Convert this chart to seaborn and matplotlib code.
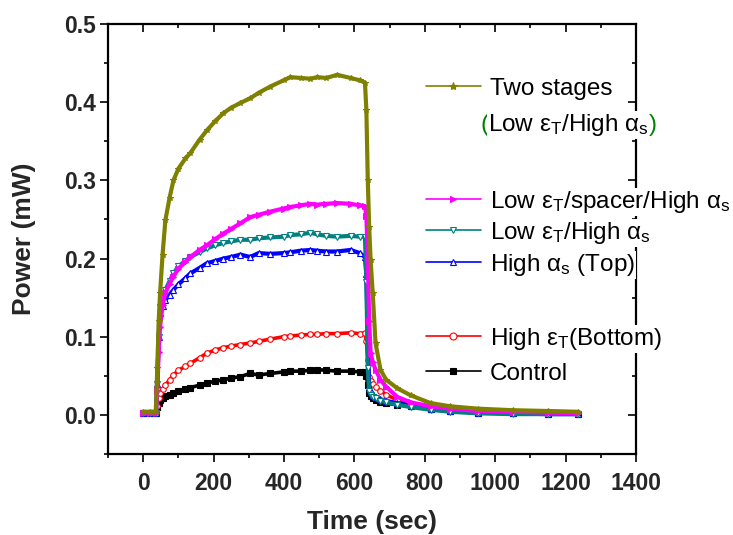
import numpy as np
import pandas as pd
import matplotlib
matplotlib.use("Agg")
import matplotlib.pyplot as plt
import matplotlib.lines as mlines
import seaborn as sns
from matplotlib.ticker import AutoMinorLocator
from matplotlib.lines import Line2D

# ---------------- data ----------------
time_s = [0, 20, 36, 40, 44, 48, 55, 63, 75, 86, 100, 120, 134, 160, 181, 205, 228, 250,
          276, 304, 328, 361, 399, 418, 447, 475, 494, 520, 551, 589, 615, 630, 634, 638,
          642, 646, 652, 660, 674, 690, 722, 760, 817, 873, 950, 1050, 1150, 1235]

two_stages = [0.004, 0.004, 0.004, 0.060, 0.120, 0.156, 0.205, 0.249, 0.278, 0.300, 0.315,
              0.328, 0.335, 0.352, 0.364, 0.376, 0.386, 0.393, 0.399, 0.405, 0.412, 0.420,
              0.428, 0.432, 0.431, 0.430, 0.432, 0.431, 0.435, 0.431, 0.428, 0.425, 0.390,
              0.300, 0.240, 0.198, 0.156, 0.092, 0.058, 0.045, 0.034, 0.025, 0.015, 0.011,
              0.008, 0.006, 0.005, 0.004]

spacer = [0.002, 0.002, 0.002, 0.030, 0.080, 0.113, 0.140, 0.156, 0.168, 0.177, 0.187,
          0.196, 0.202, 0.211, 0.217, 0.225, 0.232, 0.238, 0.245, 0.253, 0.256, 0.260,
          0.264, 0.266, 0.268, 0.270, 0.269, 0.270, 0.271, 0.270, 0.268, 0.267, 0.255,
          0.200, 0.120, 0.079, 0.068, 0.058, 0.045, 0.036, 0.023, 0.016, 0.011, 0.008,
          0.005, 0.004, 0.003, 0.002]

low_high = [0.002, 0.002, 0.002, 0.040, 0.100, 0.138, 0.150, 0.160, 0.171, 0.181, 0.190,
            0.197, 0.202, 0.208, 0.213, 0.217, 0.220, 0.222, 0.224, 0.224, 0.226, 0.227,
            0.228, 0.230, 0.231, 0.233, 0.231, 0.229, 0.228, 0.229, 0.228, 0.228, 0.170,
            0.060, 0.030, 0.026, 0.023, 0.021, 0.018, 0.016, 0.013, 0.010, 0.0065, 0.004,
            0.002, 0.001, 0.001, 0.001]

high_alpha = [0.002, 0.002, 0.002, 0.040, 0.100, 0.130, 0.139, 0.147, 0.154, 0.160, 0.167,
              0.175, 0.181, 0.188, 0.194, 0.197, 0.200, 0.202, 0.205, 0.202, 0.207, 0.206,
              0.207, 0.208, 0.210, 0.211, 0.210, 0.209, 0.209, 0.211, 0.207, 0.202, 0.180,
              0.100, 0.035, 0.030, 0.026, 0.023, 0.020, 0.018, 0.015, 0.012, 0.008, 0.005,
              0.003, 0.002, 0.001, 0.001]

high_eps = [0.002, 0.002, 0.002, 0.012, 0.022, 0.028, 0.033, 0.038, 0.045, 0.051, 0.057,
            0.062, 0.066, 0.073, 0.079, 0.083, 0.086, 0.088, 0.090, 0.092, 0.094, 0.097,
            0.100, 0.101, 0.102, 0.103, 0.103, 0.104, 0.104, 0.105, 0.104, 0.105, 0.095,
            0.070, 0.049, 0.044, 0.040, 0.036, 0.031, 0.026, 0.019, 0.014, 0.010, 0.007,
            0.005, 0.003, 0.002, 0.002]

control = [0.002, 0.002, 0.002, 0.010, 0.015, 0.019, 0.022, 0.024, 0.026, 0.028, 0.030,
           0.033, 0.035, 0.038, 0.041, 0.043, 0.045, 0.047, 0.049, 0.053, 0.051, 0.053,
           0.055, 0.056, 0.056, 0.057, 0.058, 0.057, 0.056, 0.056, 0.055, 0.055, 0.050,
           0.038, 0.028, 0.024, 0.021, 0.019, 0.017, 0.015, 0.013, 0.011, 0.007, 0.005,
           0.003, 0.002, 0.001, 0.001]

series_names = ["Control", "High eps (Bottom)", "High alpha (Top)", "Low eps/High alpha",
                "Low eps/spacer/High alpha", "Two stages"]
series_values = [control, high_eps, high_alpha, low_high, spacer, two_stages]

x_ticks = [0, 200, 400, 600, 800, 1000, 1200, 1400]
y_ticks = [0.0, 0.1, 0.2, 0.3, 0.4, 0.5]

# ---------------- styles ----------------
colors = {"Control": "#000000", "High eps (Bottom)": "#FF0000", "High alpha (Top)": "#0000FF",
          "Low eps/High alpha": "#008080", "Low eps/spacer/High alpha": "#FF00FF",
          "Two stages": "#808000"}
markers = {"Control": "s", "High eps (Bottom)": "o", "High alpha (Top)": "^",
           "Low eps/High alpha": "v", "Low eps/spacer/High alpha": ">", "Two stages": "*"}
open_m = {"High eps (Bottom)", "High alpha (Top)", "Low eps/High alpha"}

rows = []
for name, vals in zip(series_names, series_values):
    for t, v in zip(time_s, vals):
        rows.append({"Time": t, "Power": v, "Sample": name})
df = pd.DataFrame(rows)

sns.set_style("ticks")
plt.rcParams["font.family"] = ["Liberation Sans", "DejaVu Sans"]
plt.rcParams["mathtext.default"] = "regular"

W, H = 733, 535
fig = plt.figure(figsize=(W / 100, H / 100), dpi=100)
ax = fig.add_axes([108 / W, 1 - 454 / H, 528 / W, 430 / H])

for name in series_names:
    sub = df[df["Sample"] == name]
    lw = 2.6 if name in ("Control", "High eps (Bottom)") else 3.0
    sns.lineplot(data=sub, x="Time", y="Power", ax=ax, color=colors[name], lw=lw,
                 marker=markers[name], markersize=4,
                 markerfacecolor="white" if name in open_m else colors[name],
                 markeredgecolor=colors[name], markeredgewidth=0.8, legend=False)

ax.set_xlim(-100, 1400)
ax.set_ylim(-0.05, 0.5)
ax.set_xticks(x_ticks)
ax.set_yticks(y_ticks)
ax.set_yticklabels([f"{v:.1f}" for v in y_ticks])
ax.xaxis.set_minor_locator(AutoMinorLocator(2))
ax.yaxis.set_minor_locator(AutoMinorLocator(2))
for s in ax.spines.values():
    s.set_visible(True)
    s.set_linewidth(1.6)
    s.set_color("black")
ax.tick_params(which="major", direction="out", length=5.8, width=1.2, labelsize=16.5,
               color="black", top=True, right=True, labeltop=False, labelright=False)
ax.tick_params(axis="x", which="major", pad=7)
ax.tick_params(axis="y", which="major", pad=3)
ax.tick_params(which="minor", direction="out", length=3.2, width=1.2, color="black",
               top=True, right=True)
for lab in ax.get_xticklabels() + ax.get_yticklabels():
    lab.set_fontweight("bold")
ax.set_xlabel("Time (sec)", fontsize=19, fontweight="bold", labelpad=11)
ax.set_ylabel("Power (mW)", fontsize=19, fontweight="bold", labelpad=20)

# Origin-style mirrored ticks: top ticks point down (inward), right ticks point left (inward)
fig.canvas.draw()
for tk in ax.xaxis.get_major_ticks() + ax.xaxis.get_minor_ticks():
    tk.tick2line.set_marker(mlines.TICKDOWN)
for tk in ax.yaxis.get_major_ticks() + ax.yaxis.get_minor_ticks():
    tk.tick2line.set_marker(mlines.TICKLEFT)

# ---------------- manual legend (figure coords, drawn above the axes) ----------------
def fx(px):
    return px / W

def fy(py):
    return 1 - py / H

FS = 17.5
entries = [
    ("Two stages", 86, "Two stages"),
    ("Low eps/spacer/High alpha", 199, r"Low ε$_T$/spacer/High α$_s$"),
    ("Low eps/High alpha", 230, r"Low ε$_T$/High α$_s$"),
    ("High alpha (Top)", 262, r"High α$_s$ (Top)"),
    ("High eps (Bottom)", 336, r"High ε$_T$(Bottom)"),
    ("Control", 371, "Control"),
]
bb = dict(facecolor="white", edgecolor="none", pad=0.5)
for name, ly, label in entries:
    c = colors[name]
    fig.add_artist(Line2D([fx(426), fx(481)], [fy(ly), fy(ly)], transform=fig.transFigure,
                          color=c, lw=1.2, zorder=5))
    fig.add_artist(Line2D([fx(453)], [fy(ly)], transform=fig.transFigure, color=c,
                          marker=markers[name], markersize=5 if name != "Two stages" else 6,
                          markerfacecolor="white" if name in open_m else c,
                          markeredgecolor=c, markeredgewidth=0.8, lw=0, zorder=5))
    fig.text(fx(490), fy(ly + 9), label, fontsize=FS, color="black", va="baseline",
             ha="left", zorder=6, bbox=bb)

# second line of "Two stages" with green parentheses
renderer = fig.canvas.get_renderer()
base_y = fy(131)
t1 = fig.text(fx(480), base_y, "(", fontsize=FS, color="#008000", va="baseline", zorder=6,
              bbox=bb)
x1 = t1.get_window_extent(renderer).x1
t2 = fig.text(x1 / W, base_y, r"Low ε$_T$/High α$_s$", fontsize=FS, color="black",
              va="baseline", zorder=6, bbox=bb)
x2 = t2.get_window_extent(renderer).x1
fig.text(x2 / W, base_y, ")", fontsize=FS, color="#008000", va="baseline", zorder=6,
         bbox=bb)

fig.savefig("out.png", dpi=100)
